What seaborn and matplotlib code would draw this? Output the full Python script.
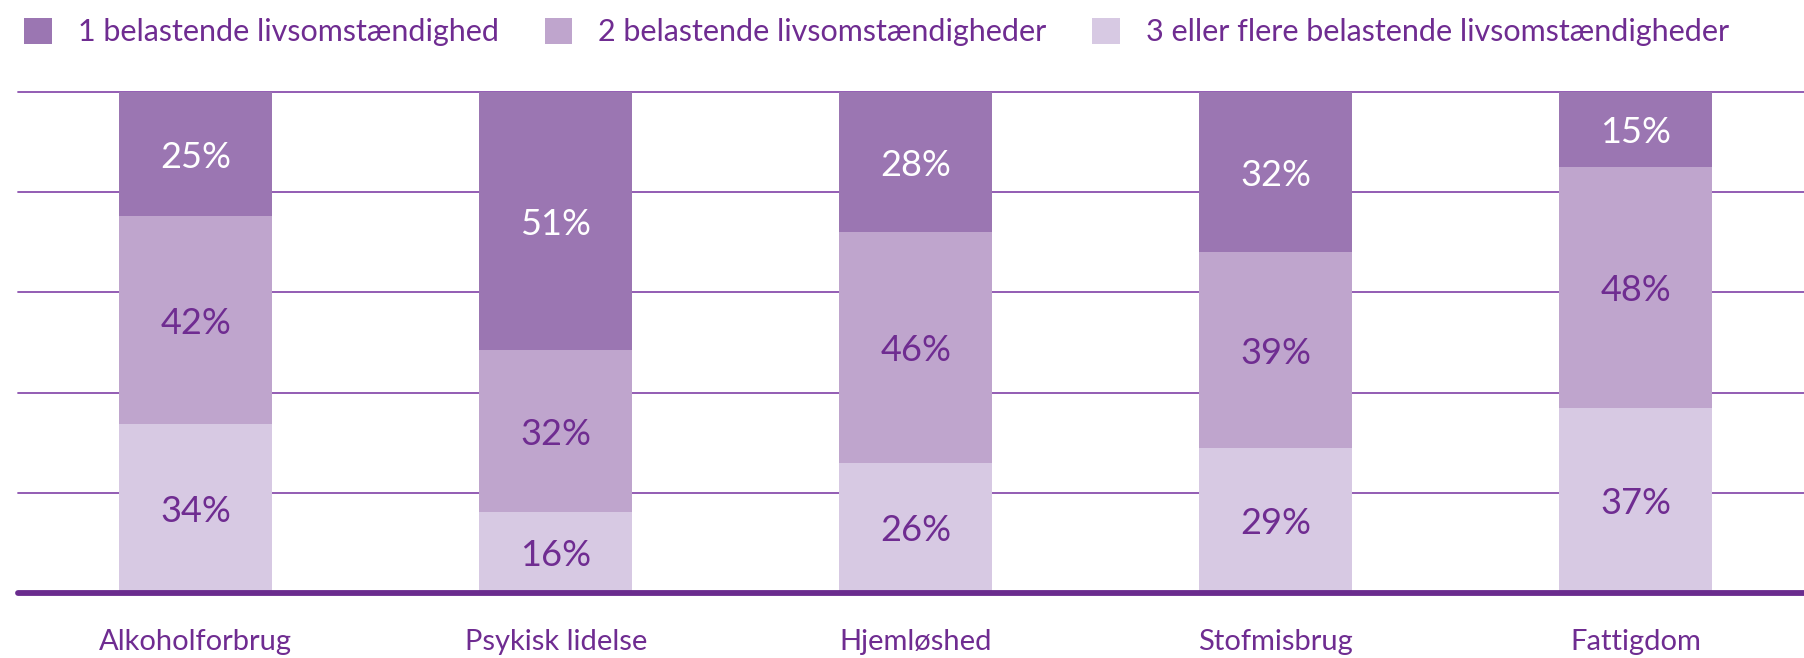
import matplotlib
matplotlib.use("Agg")
import matplotlib.pyplot as plt
import seaborn as sns
import numpy as np
from matplotlib.patches import Patch

categories = ["Alkoholforbrug", "Psykisk lidelse", "Hjemløshed", "Stofmisbrug", "Fattigdom"]
series_names = ["1 belastende livsomstændighed", "2 belastende livsomstændigheder",
                "3 eller flere belastende livsomstændigheder"]
one = [25, 51, 28, 32, 15]
two = [42, 32, 46, 39, 48]
three_plus = [34, 16, 26, 29, 37]

colors = ["#9b76b2", "#bfa5cd", "#d7c9e3"]
text_purple = "#6f2c91"
line_purple = "#8a4fae"

sns.set_theme(style="white")
plt.rcParams["font.family"] = ["Lato", "DejaVu Sans"]

fig = plt.figure(figsize=(18.04, 6.58), dpi=100)
ax = fig.add_axes([18 / 1804, 1 - 593 / 658, 1 - 18 / 1804, (593 - 92) / 658])

one_a = np.array(one, float)
two_a = np.array(two, float)
thr_a = np.array(three_plus, float)
tot = one_a + two_a + thr_a
h3 = thr_a / tot * 100
h2 = two_a / tot * 100
h1 = one_a / tot * 100

# gridlines
for yv in [20, 40, 60, 80, 100]:
    ax.axhline(yv, color=line_purple, lw=1.3, zorder=0, clip_on=False)

w = 0.425
sns.barplot(x=categories, y=h3, color=colors[2], width=w, ax=ax, saturation=1, zorder=2,
            linewidth=0)
sns.barplot(x=categories, y=h2, bottom=h3, color=colors[1], width=w, ax=ax, saturation=1,
            zorder=2, linewidth=0)
sns.barplot(x=categories, y=h1, bottom=h3 + h2, color=colors[0], width=w, ax=ax, saturation=1,
            zorder=2, linewidth=0)

fs = 26
for i in range(len(categories)):
    ax.text(i, h3[i] / 2, f"{three_plus[i]}%", ha="center", va="center_baseline", fontsize=fs,
            color=text_purple, zorder=3)
    ax.text(i, h3[i] + h2[i] / 2, f"{two[i]}%", ha="center", va="center_baseline", fontsize=fs,
            color=text_purple, zorder=3)
    ax.text(i, h3[i] + h2[i] + h1[i] / 2, f"{one[i]}%", ha="center", va="center_baseline",
            fontsize=fs, color="white", zorder=3)

ax.axhline(0, color="#6a2c8e", lw=4.2, zorder=4, clip_on=False)
ax.set_ylim(0, 100)
ax.set_xlim(-0.494, 4.467)
ax.set_yticks([])
ax.set_ylabel("")
ax.set_xlabel("")
for s in ax.spines.values():
    s.set_visible(False)
ax.tick_params(axis="x", length=0, pad=26, labelsize=21, labelcolor=text_purple)

handles = [Patch(facecolor=c, edgecolor="none") for c in colors]
leg = fig.legend(handles, series_names, loc="upper left", bbox_to_anchor=(12 / 1804, 1 - 6 / 658),
                 ncol=3, frameon=False, fontsize=22, handlelength=0.9, handleheight=0.9,
                 handletextpad=0.85, columnspacing=1.5, borderaxespad=0)
for t in leg.get_texts():
    t.set_color(text_purple)

fig.savefig("out.png", dpi=100)
